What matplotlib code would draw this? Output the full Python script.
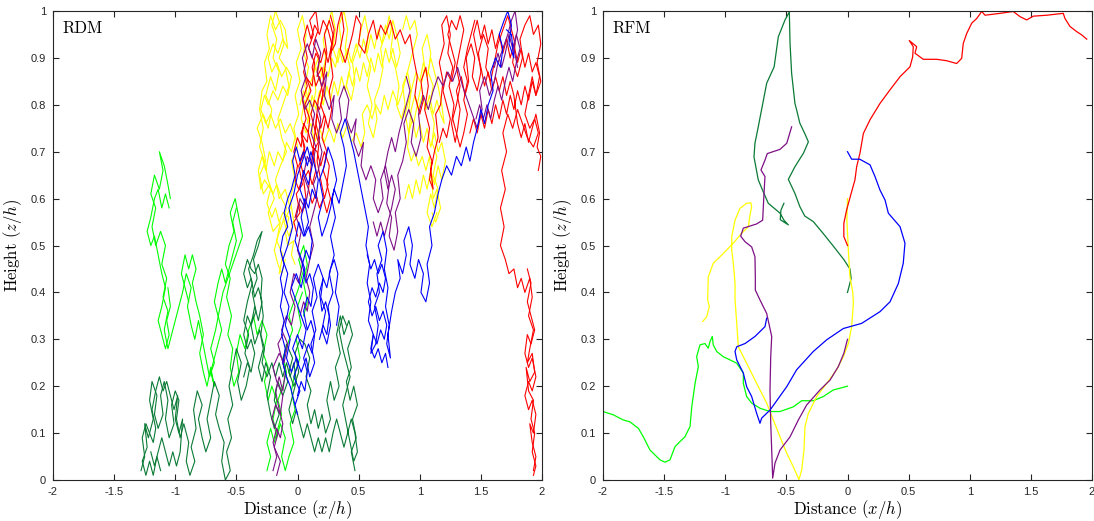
import numpy as np
import matplotlib.pyplot as plt

plt.rcParams['mathtext.fontset'] = 'cm'
plt.rcParams['font.family'] = ['Liberation Sans', 'DejaVu Sans']

colors = {
    'red': '#ff0000',
    'yellow': '#ffff00',
    'purple': '#7e0f86',
    'blue': '#0000ff',
    'lime': '#00ff00',
    'darkgreen': '#0a7a35',
}

x_ticks = [-2, -1.5, -1, -0.5, 0, 0.5, 1, 1.5, 2]
x_ticklabels = ['-2', '-1.5', '-1', '-0.5', '0', '0.5', '1', '1.5', '2']
y_ticks = [0, 0.1, 0.2, 0.3, 0.4, 0.5, 0.6, 0.7, 0.8, 0.9, 1]
y_ticklabels = ['0', '0.1', '0.2', '0.3', '0.4', '0.5', '0.6', '0.7', '0.8', '0.9', '1']

# ---- RDM paths, (x, z) in hundredths of h, stored as pieces of each walk ----
rdm_lime = [
    [(4, 40), (0, 37), (3, 33), (-1, 30), (2, 26), (-2, 23), (-5, 19), (-2, 15), (-6, 12), (-3, 8),
     (-7, 5), (-10, 2), (-13, 5), (-10, 9), (-14, 12), (-17, 9), (-20, 13), (-17, 17), (-21, 20),
     (-24, 17), (-27, 21), (-24, 24), (-28, 27), (-25, 31), (-29, 34), (-33, 31), (-36, 35), (-40, 32),
     (-43, 28), (-47, 31), (-50, 27), (-48, 23), (-52, 20), (-55, 24), (-53, 28), (-57, 31), (-54, 35),
     (-58, 39), (-55, 43), (-59, 46), (-56, 50), (-52, 53), (-55, 57), (-51, 60), (-48, 56), (-45, 52),
     (-49, 49), (-53, 46), (-57, 43), (-61, 40), (-64, 36), (-67, 32), (-71, 28), (-68, 25), (-72, 22),
     (-75, 26), (-78, 30), (-81, 34), (-84, 30), (-87, 33), (-90, 37), (-87, 41), (-91, 44), (-94, 40),
     (-97, 37), (-100, 34), (-103, 31), (-106, 28), (-109, 32), (-106, 36), (-110, 39), (-107, 43),
     (-111, 46), (-108, 50), (-112, 53), (-116, 50), (-119, 54), (-116, 58), (-120, 61), (-117, 65),
     (-113, 62), (-110, 66), (-113, 70), (-109, 67), (-106, 63), (-104, 60)],
    [(-105, 58), (-108, 61), (-111, 58), (-114, 62), (-117, 60), (-120, 56), (-123, 53), (-120, 50),
     (-117, 52), (-114, 48), (-111, 44), (-108, 41), (-111, 37), (-114, 34), (-111, 31), (-108, 28),
     (-105, 31), (-107, 34), (-104, 37), (-106, 41)],
    [(-50, 58), (-53, 55), (-50, 51), (-53, 48), (-56, 45), (-59, 42), (-62, 45), (-65, 42), (-68, 38),
     (-65, 35), (-62, 32), (-65, 29), (-68, 26), (-71, 23), (-68, 20), (-71, 24), (-74, 20), (-77, 23),
     (-80, 27), (-77, 31), (-80, 35), (-83, 38), (-86, 42), (-83, 45), (-86, 48), (-89, 45), (-92, 48),
     (-95, 44), (-92, 41), (-89, 38)],
    [(-25, 2), (-22, 5), (-25, 8), (-22, 11), (-19, 8), (-16, 11), (-13, 14), (-16, 17), (-12, 20),
     (-9, 23), (-12, 26), (-8, 29), (-4, 32), (-7, 35), (-3, 38), (1, 41), (4, 44), (1, 47), (5, 50),
     (8, 46), (5, 42), (8, 38), (5, 35)],
]

rdm_darkgreen = [
    [(47, 2), (44, 6), (48, 9), (45, 13), (49, 16), (46, 20), (43, 17), (40, 21), (44, 24), (41, 28),
     (45, 31), (42, 34), (38, 31), (35, 35), (32, 31), (35, 27), (31, 24), (34, 20), (30, 17), (27, 21),
     (24, 17), (27, 13), (23, 10), (20, 14), (17, 11), (14, 15), (11, 12), (8, 16), (11, 19), (7, 22),
     (10, 26), (6, 29), (2, 30), (-2, 27), (1, 23), (-3, 20), (-7, 23), (-4, 26), (-9, 29), (-12, 25),
     (-8, 21), (-12, 18), (-16, 21), (-19, 17), (-15, 14), (-19, 11), (-22, 14), (-25, 18), (-22, 22),
     (-26, 25), (-29, 21), (-32, 24), (-28, 28), (-31, 32), (-35, 29), (-38, 33), (-34, 36), (-37, 40),
     (-33, 43), (-36, 47), (-32, 50), (-29, 53), (-33, 51), (-36, 48), (-40, 45), (-37, 42), (-41, 38),
     (-44, 34), (-40, 31), (-43, 27), (-39, 24), (-42, 20), (-46, 17), (-49, 21), (-46, 25), (-50, 28),
     (-53, 24), (-56, 20), (-53, 16), (-57, 13), (-54, 9), (-58, 6), (-55, 2), (-59, 0), (-62, 4),
     (-60, 8), (-64, 11), (-67, 14), (-64, 18), (-68, 21), (-71, 17), (-74, 13), (-71, 9), (-75, 6),
     (-78, 9), (-81, 13), (-78, 16), (-82, 19), (-85, 15), (-83, 11), (-87, 7), (-84, 4), (-88, 1),
     (-91, 4), (-89, 8), (-93, 12), (-96, 9), (-99, 13), (-97, 17), (-100, 19), (-103, 16), (-101, 12),
     (-105, 9), (-108, 13), (-106, 17), (-109, 21), (-112, 18), (-110, 14), (-114, 11), (-117, 14),
     (-115, 18), (-119, 21), (-121, 17), (-118, 13), (-122, 9), (-125, 12), (-123, 7), (-127, 4),
     (-124, 1), (-121, 4), (-118, 1), (-115, 5), (-112, 2)],
    [(-44, 22), (-41, 25), (-38, 23), (-35, 27), (-38, 30), (-41, 28), (-44, 31), (-41, 35), (-38, 33),
     (-35, 37), (-32, 34), (-29, 38), (-32, 41), (-35, 39), (-38, 43), (-41, 41), (-44, 44), (-41, 47),
     (-38, 45), (-35, 44), (-32, 46), (-29, 43), (-30, 39), (-28, 35), (-30, 31), (-27, 28), (-29, 25),
     (-25, 22), (-21, 25), (-18, 22), (-15, 25), (-12, 22), (-9, 25), (-6, 22), (-3, 25), (-1, 21),
     (-4, 18), (-7, 15), (-4, 12), (-1, 15), (2, 12), (5, 9), (8, 12), (11, 9), (14, 6), (17, 9),
     (20, 6), (23, 9), (26, 6), (29, 10), (32, 13), (35, 10), (38, 7), (41, 10), (44, 13), (47, 10),
     (49, 6), (46, 4), (43, 8), (40, 12), (37, 16), (40, 19), (43, 22), (40, 25), (37, 28), (34, 32),
     (37, 35), (40, 33)],
    [(-128, 2), (-125, 5), (-127, 9), (-124, 12), (-121, 10), (-118, 8), (-116, 11), (-119, 15),
     (-116, 19), (-113, 22), (-110, 19), (-107, 21), (-104, 18), (-101, 15), (-98, 18), (-100, 13),
     (-97, 10), (-94, 13), (-96, 6), (-99, 3), (-102, 6), (-105, 3), (-108, 6), (-111, 9), (-114, 6),
     (-117, 3), (-120, 6)],
]

rdm_yellow = [
    [(-15, 44), (-12, 48), (-17, 51), (-14, 55), (-20, 53), (-24, 57), (-19, 60), (-23, 63), (-28, 61),
     (-31, 65), (-26, 68), (-29, 72), (-33, 75), (-28, 78), (-24, 75), (-21, 79), (-26, 82), (-22, 86),
     (-18, 83), (-15, 87), (-20, 90), (-17, 94), (-21, 97), (-18, 100), (-14, 97), (-11, 93), (-15, 90),
     (-10, 88), (-7, 84), (-12, 80), (-16, 77), (-13, 73), (-9, 70), (-14, 67), (-18, 64), (-15, 60),
     (-10, 62), (-6, 58), (-11, 55), (-7, 52), (-3, 55), (-6, 60), (-2, 64), (-5, 68), (0, 71), (-3, 75),
     (1, 78), (-2, 82), (2, 85), (-1, 89), (3, 92), (0, 96), (4, 99), (7, 95), (5, 91), (9, 88), (6, 84),
     (10, 80), (8, 76), (12, 79), (15, 83), (13, 87), (17, 90), (20, 86), (23, 90), (21, 94), (25, 97),
     (28, 100), (31, 96), (29, 92), (33, 89), (36, 93), (34, 97), (38, 100), (41, 96), (39, 92), (43, 88),
     (40, 84), (44, 81), (47, 85), (45, 89), (49, 92), (52, 96), (55, 99), (58, 95), (56, 91), (60, 88),
     (57, 84), (61, 80), (58, 76), (62, 73), (65, 77), (63, 81), (67, 84), (70, 88), (68, 92), (72, 95),
     (75, 99), (78, 95), (76, 91), (80, 88), (83, 84), (81, 80), (85, 77), (88, 80), (86, 84), (90, 87),
     (93, 83), (91, 79), (95, 76), (98, 80), (101, 84), (104, 88), (102, 92), (106, 95), (109, 91),
     (107, 87), (111, 84), (108, 80), (112, 76), (110, 72), (114, 69), (111, 65), (115, 62), (112, 58),
     (109, 61), (106, 57), (110, 54), (114, 57)],
    [(-2, 46), (-5, 48), (-3, 51), (-8, 50), (-10, 53), (-7, 56), (-12, 57), (-15, 55), (-18, 58),
     (-21, 56), (-25, 59), (-22, 62), (-27, 64), (-30, 62), (-32, 66), (-29, 69), (-26, 66), (-23, 70),
     (-19, 67), (-16, 70), (-12, 68), (-9, 72), (-5, 70), (-2, 73), (-6, 76), (-10, 74), (-14, 77),
     (-18, 75), (-22, 78), (-26, 76), (-30, 79), (-27, 82), (-24, 80), (-20, 83), (-16, 81), (-12, 84),
     (-8, 82), (-5, 86), (-9, 88), (-13, 86), (-17, 89), (-21, 87), (-24, 90), (-20, 93), (-16, 91),
     (-12, 94), (-8, 92), (-10, 96), (-14, 98), (-18, 96), (-22, 99), (-25, 95), (-23, 92), (-27, 89),
     (-25, 85), (-29, 83), (-31, 79), (-28, 75), (-31, 71), (-27, 68), (-24, 64), (-20, 61), (-17, 63),
     (-13, 60), (-9, 58), (-12, 55), (-16, 52), (-19, 49), (-16, 46), (-13, 44), (-10, 47)],
    [(2, 80), (5, 83), (8, 81), (11, 85), (15, 88), (18, 85), (22, 88), (25, 86), (28, 90), (31, 88),
     (34, 92), (37, 89), (41, 92), (44, 89), (48, 93), (51, 90), (54, 94), (57, 91), (60, 95), (63, 92),
     (66, 96), (69, 93), (72, 97), (75, 94), (78, 98), (81, 95), (84, 91), (81, 88), (78, 92), (75, 89),
     (72, 92), (69, 88), (66, 91), (63, 87), (60, 90), (57, 86), (54, 89), (51, 85), (48, 88), (45, 84),
     (42, 87), (39, 83), (36, 86), (33, 82), (30, 85), (27, 81), (24, 84), (21, 80), (18, 83), (15, 79),
     (12, 82), (9, 78), (6, 81), (3, 77), (7, 74), (11, 76), (14, 72), (18, 75), (22, 72), (26, 75),
     (30, 72), (33, 76), (37, 73), (41, 76), (44, 72), (48, 74), (52, 71), (55, 74), (53, 78), (57, 80),
     (61, 77), (64, 80), (68, 78), (71, 82), (74, 79), (78, 83), (82, 80), (86, 83), (89, 86), (92, 89),
     (95, 92), (98, 95), (96, 98), (92, 96), (89, 99), (86, 96)],
    [(88, 60), (91, 63), (94, 60), (97, 64), (100, 61), (103, 65), (106, 62), (109, 66), (112, 63),
     (115, 67), (118, 64), (121, 68), (118, 72), (115, 70), (112, 74), (109, 71), (106, 75), (103, 72),
     (100, 76), (97, 73), (94, 77), (91, 74), (88, 78), (91, 81), (94, 84), (97, 87), (100, 85),
     (103, 89), (106, 86), (109, 90), (112, 87), (115, 84), (118, 80), (120, 76), (117, 78), (114, 81),
     (111, 78), (108, 82), (105, 79), (102, 82), (99, 79), (96, 82), (93, 79), (90, 71), (93, 68),
     (96, 70), (99, 67), (102, 69), (105, 66), (108, 69), (111, 60), (114, 62), (117, 58), (113, 55),
     (110, 57)],
]

rdm_red = [
    [(0, 52), (-3, 55), (2, 57), (-1, 61), (4, 63), (1, 67), (6, 70), (3, 74), (8, 72), (10, 77), (6, 80),
     (11, 83), (7, 86), (12, 84), (14, 89), (9, 92), (13, 95), (10, 98), (15, 100), (17, 96), (13, 93),
     (18, 90), (16, 86), (20, 88), (22, 84), (19, 80), (23, 77), (20, 73), (24, 70), (21, 66), (25, 63),
     (22, 60), (19, 64), (16, 68), (18, 73), (15, 76), (17, 81), (21, 85), (24, 91), (22, 95), (26, 98),
     (29, 95), (27, 91), (31, 93), (33, 97), (36, 100), (38, 96), (35, 92), (39, 89), (42, 92), (45, 95),
     (48, 99), (52, 97), (50, 93), (55, 91), (58, 95), (62, 98), (65, 94), (68, 97), (72, 95), (76, 98),
     (80, 94), (84, 96), (88, 93), (92, 95), (95, 90), (98, 86), (96, 82), (100, 78), (103, 81),
     (101, 85), (105, 88), (107, 84), (104, 79), (108, 75), (106, 71), (110, 68), (108, 64), (111, 62),
     (109, 66), (112, 70), (115, 73), (113, 78), (117, 80), (119, 85), (116, 89), (120, 93), (118, 97),
     (122, 99), (125, 95), (123, 91), (127, 88), (124, 84), (128, 80), (126, 76), (129, 72), (131, 75),
     (133, 79), (130, 83), (134, 86), (137, 82), (140, 85), (138, 90), (142, 93), (145, 90), (143, 86),
     (147, 83), (150, 87), (148, 91), (152, 95), (156, 92), (154, 88), (158, 85), (161, 89), (164, 93),
     (168, 96), (172, 99), (175, 96), (178, 93), (176, 89), (180, 86), (184, 90), (182, 94), (186, 97),
     (190, 99), (193, 95), (197, 97), (199, 93), (196, 89), (199, 85), (195, 82), (192, 86), (189, 82),
     (186, 78), (190, 75), (194, 77), (197, 74), (193, 71), (188, 73), (184, 76), (180, 79), (176, 75),
     (172, 78), (168, 74), (171, 70), (167, 66), (170, 62), (166, 58), (169, 54), (166, 50), (170, 47),
     (173, 44), (177, 45), (180, 41), (183, 43), (186, 40), (190, 43), (192, 39), (189, 35), (193, 32),
     (190, 28), (188, 25), (192, 27), (194, 23), (190, 21), (187, 24), (189, 19), (193, 17), (191, 13),
     (194, 10), (192, 6), (195, 3), (193, 1)],
    [(-2, 56), (1, 59), (4, 57), (7, 60), (5, 64), (9, 66), (12, 63), (15, 66), (13, 70), (17, 72),
     (14, 75), (11, 78), (14, 81), (18, 79), (21, 82), (18, 86), (15, 84), (12, 88), (15, 91), (19, 89),
     (22, 92), (25, 89), (28, 93), (25, 96), (21, 98), (18, 95), (14, 97), (11, 94), (8, 97), (5, 94),
     (8, 90), (5, 87), (8, 84), (4, 81), (7, 77), (3, 74), (6, 71), (2, 68), (5, 65), (1, 62), (-2, 64),
     (0, 67), (-3, 70), (0, 73), (3, 71), (5, 76), (9, 74), (12, 71), (16, 70), (19, 67), (22, 70),
     (26, 67), (24, 63), (27, 60), (24, 57), (21, 60), (18, 58), (15, 61), (12, 59), (9, 62), (16, 78),
     (19, 75), (22, 78), (25, 75), (28, 79), (26, 83), (29, 86), (27, 90), (30, 96), (27, 99)],
    [(116, 72), (119, 75), (122, 73), (125, 77), (122, 80), (119, 83), (122, 87), (126, 85), (129, 89),
     (126, 92), (123, 95), (126, 98), (130, 96), (133, 99), (136, 96), (133, 92), (130, 88), (133, 84),
     (130, 80), (127, 77), (130, 74), (133, 71), (136, 74), (139, 78), (136, 81), (139, 85), (136, 88),
     (139, 92), (142, 95), (145, 98)],
    [(141, 74), (144, 77), (147, 74), (150, 78), (153, 75), (156, 79), (159, 76), (162, 80), (165, 77),
     (168, 81), (171, 78), (174, 82), (177, 79), (180, 83), (183, 80), (186, 84), (189, 81), (192, 85),
     (195, 82), (198, 86), (195, 89), (192, 87), (189, 91), (186, 88), (183, 92), (180, 89), (177, 93),
     (174, 90), (171, 94), (168, 91), (165, 95), (162, 92), (159, 96), (156, 93), (153, 97), (150, 94),
     (147, 98), (144, 95), (147, 91), (150, 88), (153, 84), (156, 87), (159, 83), (162, 86), (165, 83),
     (168, 86), (171, 82), (174, 85), (177, 82), (180, 76), (183, 73), (186, 76), (189, 72), (192, 75),
     (195, 78), (198, 74), (196, 71), (199, 69), (197, 66)],
    [(188, 45), (191, 42), (188, 38), (191, 35), (194, 32), (191, 29), (188, 31), (186, 27), (189, 24),
     (192, 26), (195, 22), (192, 19), (189, 21), (186, 18), (189, 15), (192, 17), (195, 14), (193, 10),
     (190, 12), (192, 8), (195, 5), (193, 2)],
]

rdm_purple = [
    [(-17, 1), (-14, 4), (-19, 7), (-16, 10), (-21, 13), (-18, 16), (-14, 14), (-12, 18), (-17, 21),
     (-20, 24), (-15, 27), (-11, 25), (-8, 29), (-13, 32), (-9, 35), (-5, 33), (-2, 37), (-6, 40),
     (-3, 44), (1, 42), (4, 46), (0, 49), (3, 53), (-1, 56), (2, 60), (6, 58), (9, 62), (5, 65), (8, 69),
     (12, 67), (15, 71), (11, 74), (14, 78), (10, 81), (6, 79), (3, 83), (7, 86), (4, 90), (8, 93),
     (12, 90), (15, 94), (19, 91), (16, 87), (20, 84), (24, 87), (22, 82), (26, 79), (30, 82), (28, 77),
     (32, 74), (36, 77), (34, 81), (38, 84), (42, 81), (40, 77), (44, 74), (48, 77), (46, 72), (50, 69),
     (54, 72), (52, 67), (56, 64), (60, 67), (64, 64), (62, 60), (66, 57), (70, 60), (68, 64), (72, 67),
     (75, 63), (73, 59), (77, 56), (75, 52), (79, 49), (82, 53), (80, 57), (84, 60), (82, 65), (86, 68),
     (89, 72), (87, 76), (91, 79), (95, 76), (93, 72), (97, 69), (101, 73), (99, 78), (103, 82),
     (107, 79), (111, 83), (115, 86), (119, 84), (123, 87), (127, 85), (131, 88), (135, 84), (139, 81),
     (143, 78), (147, 75), (151, 79), (149, 83), (153, 86), (157, 82), (161, 85), (164, 89), (168, 92),
     (172, 95), (175, 98), (178, 100), (180, 96), (177, 92), (180, 88)],
    [(-20, 2), (-17, 5), (-20, 8), (-17, 11), (-14, 9), (-12, 12), (-15, 15), (-18, 19), (-15, 22),
     (-12, 19), (-10, 23), (-13, 26), (-16, 29), (-12, 31)],
    [(2, 35), (5, 38), (8, 36), (10, 40), (7, 43), (10, 47), (13, 50), (10, 54), (13, 57), (16, 60),
     (13, 63), (17, 66), (20, 70), (17, 73), (19, 77), (16, 80)],
    [(62, 55), (65, 52), (68, 55), (71, 52), (74, 55), (77, 58), (80, 62), (77, 65), (74, 62), (71, 66),
     (74, 70), (77, 73), (80, 70), (83, 74), (86, 77), (89, 80), (92, 83), (89, 86)],
    [(146, 77), (149, 80), (152, 77), (155, 80), (158, 77), (161, 81), (164, 84), (167, 81), (170, 85),
     (173, 88), (176, 85), (179, 89), (182, 92), (179, 95), (176, 92), (173, 95), (170, 91), (167, 88),
     (164, 91), (161, 88)],
]

rdm_blue = [
    [(-2, 16), (2, 19), (-3, 22), (1, 25), (-4, 28), (0, 31), (4, 28), (7, 32), (3, 35), (-1, 38),
     (-5, 41), (-1, 44), (3, 41), (6, 45), (2, 48), (-2, 51), (1, 55), (5, 52), (9, 55), (6, 59), (2, 62),
     (5, 66), (9, 63), (12, 67), (8, 71), (4, 68), (0, 65), (-3, 61), (-7, 58), (-4, 54), (-8, 50),
     (-12, 47), (-8, 44), (-11, 40), (-7, 37), (-10, 33), (-6, 30), (-9, 26), (-5, 23), (-1, 26), (3, 23),
     (7, 26), (10, 22), (14, 25), (11, 29), (15, 32), (12, 36), (16, 39), (13, 43), (17, 46), (21, 43),
     (19, 39), (23, 36), (20, 32), (24, 29), (27, 33), (25, 37), (29, 40), (26, 44), (30, 48), (27, 52),
     (31, 56), (28, 60), (32, 64), (29, 68), (25, 71), (22, 67), (18, 64), (21, 60), (17, 56), (20, 52),
     (24, 55), (27, 58), (30, 62), (34, 59), (37, 63), (40, 67), (38, 71), (35, 74), (39, 77), (43, 73),
     (46, 70), (49, 66), (52, 62), (55, 58), (58, 54), (56, 50), (59, 46), (57, 42), (60, 38), (58, 34),
     (62, 31), (60, 27), (64, 29), (66, 33), (63, 37), (67, 40), (65, 44), (69, 47), (66, 50), (70, 53),
     (73, 49), (71, 45), (74, 41), (72, 37), (75, 33), (73, 29), (76, 26), (74, 31), (77, 36), (80, 40),
     (84, 43), (82, 47), (86, 44), (89, 48), (87, 51), (91, 54), (94, 50), (92, 46), (96, 43), (99, 47),
     (103, 44), (101, 40), (105, 38), (108, 42), (106, 46), (110, 50), (108, 54), (112, 57), (115, 61),
     (118, 64), (122, 67), (126, 65), (130, 69), (134, 67), (138, 71), (141, 68), (144, 72), (147, 75),
     (150, 79), (153, 76), (156, 80), (160, 83), (158, 87), (162, 90), (166, 88), (168, 92), (165, 95),
     (169, 98), (172, 100), (175, 97), (173, 93), (177, 90), (175, 95), (171, 96)],
    [(0, 18), (3, 21), (6, 19), (8, 23), (5, 26), (9, 29), (12, 27), (14, 31), (11, 34), (8, 32), (5, 36),
     (8, 39), (11, 37), (13, 41), (10, 44), (7, 42), (4, 46), (7, 49), (10, 47), (12, 51), (9, 54),
     (6, 52), (3, 56), (6, 60), (9, 58), (12, 62), (15, 60), (17, 64), (14, 67), (11, 70), (8, 67),
     (5, 70), (2, 68), (-1, 71), (-4, 68), (-2, 65), (-5, 62), (-8, 60), (-11, 57), (-8, 54), (-12, 52),
     (-14, 49), (-11, 46), (-14, 43), (-12, 40), (-14, 37), (-11, 34), (-13, 31), (-10, 28), (-12, 25),
     (-9, 22), (-6, 20), (-3, 17), (0, 14)],
    [(57, 48), (60, 45), (63, 47), (66, 44), (69, 46), (72, 43), (70, 40), (67, 42), (64, 39), (61, 41),
     (58, 38), (61, 35), (64, 37), (67, 34), (70, 36), (73, 33), (71, 30), (68, 32), (65, 29), (62, 31),
     (60, 28), (63, 26), (66, 28), (69, 25), (72, 27), (74, 24)],
    [(18, 30), (21, 33), (24, 31), (26, 35), (23, 38), (20, 36), (18, 40), (21, 43), (24, 41), (27, 45),
     (30, 47), (33, 44), (31, 40), (34, 37), (32, 33)],
]

# ---- RFM paths, (x/h, z/h) ----
rfm_lime = [
    (0.0, 0.20), (-0.116, 0.192), (-0.198, 0.178), (-0.28, 0.169), (-0.375, 0.169), (-0.443, 0.156),
    (-0.552, 0.146), (-0.634, 0.146), (-0.716, 0.153), (-0.784, 0.164), (-0.825, 0.178), (-0.852, 0.206),
    (-0.852, 0.228), (-0.906, 0.249), (-1.016, 0.263), (-1.07, 0.274), (-1.098, 0.288), (-1.106, 0.306),
    (-1.125, 0.295), (-1.139, 0.281), (-1.166, 0.291), (-1.207, 0.288), (-1.234, 0.263), (-1.22, 0.242),
    (-1.247, 0.206), (-1.274, 0.156), (-1.288, 0.114), (-1.33, 0.092), (-1.37, 0.082), (-1.411, 0.071),
    (-1.452, 0.043), (-1.493, 0.038), (-1.534, 0.043), (-1.616, 0.064), (-1.67, 0.092), (-1.71, 0.11),
    (-1.78, 0.124), (-1.834, 0.128), (-1.916, 0.139), (-2.0, 0.146),
]

rfm_darkgreen = [
    (0.0, 0.40), (0.03, 0.43), (0.02, 0.45), (-0.03, 0.47), (-0.12, 0.50), (-0.2, 0.526), (-0.28, 0.551),
    (-0.35, 0.563), (-0.39, 0.583), (-0.43, 0.611), (-0.484, 0.641), (-0.43, 0.668), (-0.36, 0.697),
    (-0.32, 0.721), (-0.35, 0.739), (-0.39, 0.761), (-0.416, 0.789), (-0.43, 0.803), (-0.457, 0.867),
    (-0.47, 0.931), (-0.476, 0.998), (-0.511, 0.981), (-0.566, 0.945), (-0.6, 0.881), (-0.661, 0.846),
    (-0.73, 0.753), (-0.757, 0.718), (-0.765, 0.689), (-0.73, 0.64), (-0.69, 0.615), (-0.648, 0.59),
    (-0.552, 0.569), (-0.52, 0.554), (-0.484, 0.544), (-0.55, 0.555), (-0.545, 0.575), (-0.52, 0.59),
]

rfm_yellow = [
    (0.0, 0.60), (-0.005, 0.554), (0.007, 0.49), (0.02, 0.433), (0.043, 0.40), (0.048, 0.377),
    (0.034, 0.327), (0.007, 0.291), (-0.034, 0.263), (-0.089, 0.235), (-0.17, 0.206), (-0.252, 0.178),
    (-0.32, 0.142), (-0.348, 0.114), (-0.356, 0.064), (-0.375, 0.021), (-0.397, 0.001), (-0.443, 0.028),
    (-0.497, 0.057), (-0.552, 0.092), (-0.607, 0.128), (-0.661, 0.164), (-0.743, 0.206), (-0.825, 0.249),
    (-0.893, 0.284), (-0.906, 0.334), (-0.92, 0.384), (-0.92, 0.419), (-0.934, 0.462), (-0.947, 0.49),
    (-0.947, 0.519), (-0.92, 0.554), (-0.88, 0.579), (-0.825, 0.59), (-0.79, 0.591), (-0.784, 0.583),
    (-0.8, 0.561), (-0.811, 0.54), (-0.866, 0.526), (-0.934, 0.505), (-1.016, 0.483), (-1.098, 0.462),
    (-1.139, 0.433), (-1.144, 0.384), (-1.13, 0.37), (-1.152, 0.348), (-1.184, 0.338),
]

rfm_red = [
    (0.0, 0.50), (-0.03, 0.519), (-0.03, 0.547), (-0.007, 0.576), (0.034, 0.615), (0.061, 0.64),
    (0.075, 0.668), (0.102, 0.697), (0.116, 0.718), (0.13, 0.739), (0.184, 0.768), (0.266, 0.803),
    (0.348, 0.832), (0.43, 0.86), (0.511, 0.881), (0.533, 0.902), (0.538, 0.924), (0.505, 0.937),
    (0.566, 0.924), (0.552, 0.91), (0.62, 0.897), (0.73, 0.897), (0.811, 0.894), (0.893, 0.888),
    (0.934, 0.899), (0.947, 0.931), (0.975, 0.952), (1.016, 0.974), (1.057, 0.984), (1.098, 0.999),
    (1.125, 0.991), (1.248, 0.995), (1.356, 0.999), (1.411, 0.988), (1.466, 0.981), (1.52, 0.989),
    (1.63, 0.991), (1.765, 0.995), (1.779, 0.984), (1.82, 0.967), (1.875, 0.956), (1.916, 0.949),
    (1.957, 0.94),
]

rfm_purple = [
    (0.0, 0.30), (-0.03, 0.27), (-0.075, 0.242), (-0.143, 0.213), (-0.225, 0.192), (-0.334, 0.16),
    (-0.402, 0.128), (-0.47, 0.092), (-0.552, 0.064), (-0.593, 0.036), (-0.612, 0.004), (-0.62, 0.064),
    (-0.628, 0.121), (-0.634, 0.192), (-0.628, 0.263), (-0.62, 0.306), (-0.661, 0.355), (-0.716, 0.384),
    (-0.754, 0.405), (-0.754, 0.433), (-0.757, 0.476), (-0.784, 0.497), (-0.838, 0.508), (-0.874, 0.52),
    (-0.852, 0.537), (-0.743, 0.546), (-0.694, 0.554), (-0.683, 0.611), (-0.675, 0.647), (-0.708, 0.661),
    (-0.675, 0.682), (-0.656, 0.696), (-0.552, 0.705), (-0.497, 0.718), (-0.457, 0.753),
]

rfm_blue = [
    (0.0, 0.70), (0.034, 0.684), (0.10, 0.684), (0.184, 0.672), (0.225, 0.647), (0.266, 0.618),
    (0.307, 0.597), (0.334, 0.569), (0.43, 0.54), (0.47, 0.505), (0.456, 0.462), (0.416, 0.419),
    (0.348, 0.38), (0.266, 0.359), (0.116, 0.334), (-0.034, 0.323), (-0.17, 0.299), (-0.28, 0.274),
    (-0.416, 0.235), (-0.497, 0.199), (-0.593, 0.164), (-0.634, 0.149), (-0.702, 0.132), (-0.716, 0.121),
    (-0.743, 0.142), (-0.784, 0.178), (-0.825, 0.199), (-0.852, 0.228), (-0.906, 0.256), (-0.92, 0.274),
    (-0.906, 0.284), (-0.838, 0.291), (-0.757, 0.306), (-0.675, 0.327), (-0.661, 0.345),
]

rdm_paths = [('lime', rdm_lime), ('darkgreen', rdm_darkgreen), ('yellow', rdm_yellow),
             ('red', rdm_red), ('purple', rdm_purple), ('blue', rdm_blue)]
rfm_paths = [('lime', rfm_lime), ('darkgreen', rfm_darkgreen), ('yellow', rfm_yellow),
             ('red', rfm_red), ('purple', rfm_purple), ('blue', rfm_blue)]


def style_axes(ax, tag):
    ax.set_xlim(-2, 2)
    ax.set_ylim(0, 1)
    ax.set_xticks(x_ticks)
    ax.set_xticklabels(x_ticklabels)
    ax.set_yticks(y_ticks)
    ax.set_yticklabels(y_ticklabels)
    ax.tick_params(direction='in', length=4, width=0.8, top=True, right=True,
                   labelsize=8, colors='#262626', pad=5)
    for sp in ax.spines.values():
        sp.set_color('#262626')
        sp.set_linewidth(0.8)
    ax.set_xlabel(r'Distance $(x/h)$', fontfamily='cmr10', fontsize=12, labelpad=1)
    ax.set_ylabel(r'Height $(z/h)$', fontfamily='cmr10', fontsize=12, labelpad=5)
    ax.text(-1.92, 0.962, tag, fontfamily='cmr10', fontsize=12, va='center', ha='left')


fig = plt.figure(figsize=(10.94, 5.21), dpi=100)
ax1 = fig.add_axes([53 / 1094, 41 / 521, 489 / 1094, 469 / 521])
ax2 = fig.add_axes([603 / 1094, 41 / 521, 489 / 1094, 469 / 521])

for name, pieces in rdm_paths:
    for pts in pieces:
        xy = np.array(pts) / 100.0
        ax1.plot(xy[:, 0], xy[:, 1], color=colors[name], lw=0.8)

for name, pts in rfm_paths:
    xy = np.array(pts)
    ax2.plot(xy[:, 0], xy[:, 1], color=colors[name], lw=0.9)

style_axes(ax1, 'RDM')
style_axes(ax2, 'RFM')

fig.savefig('out.png', dpi=100)
